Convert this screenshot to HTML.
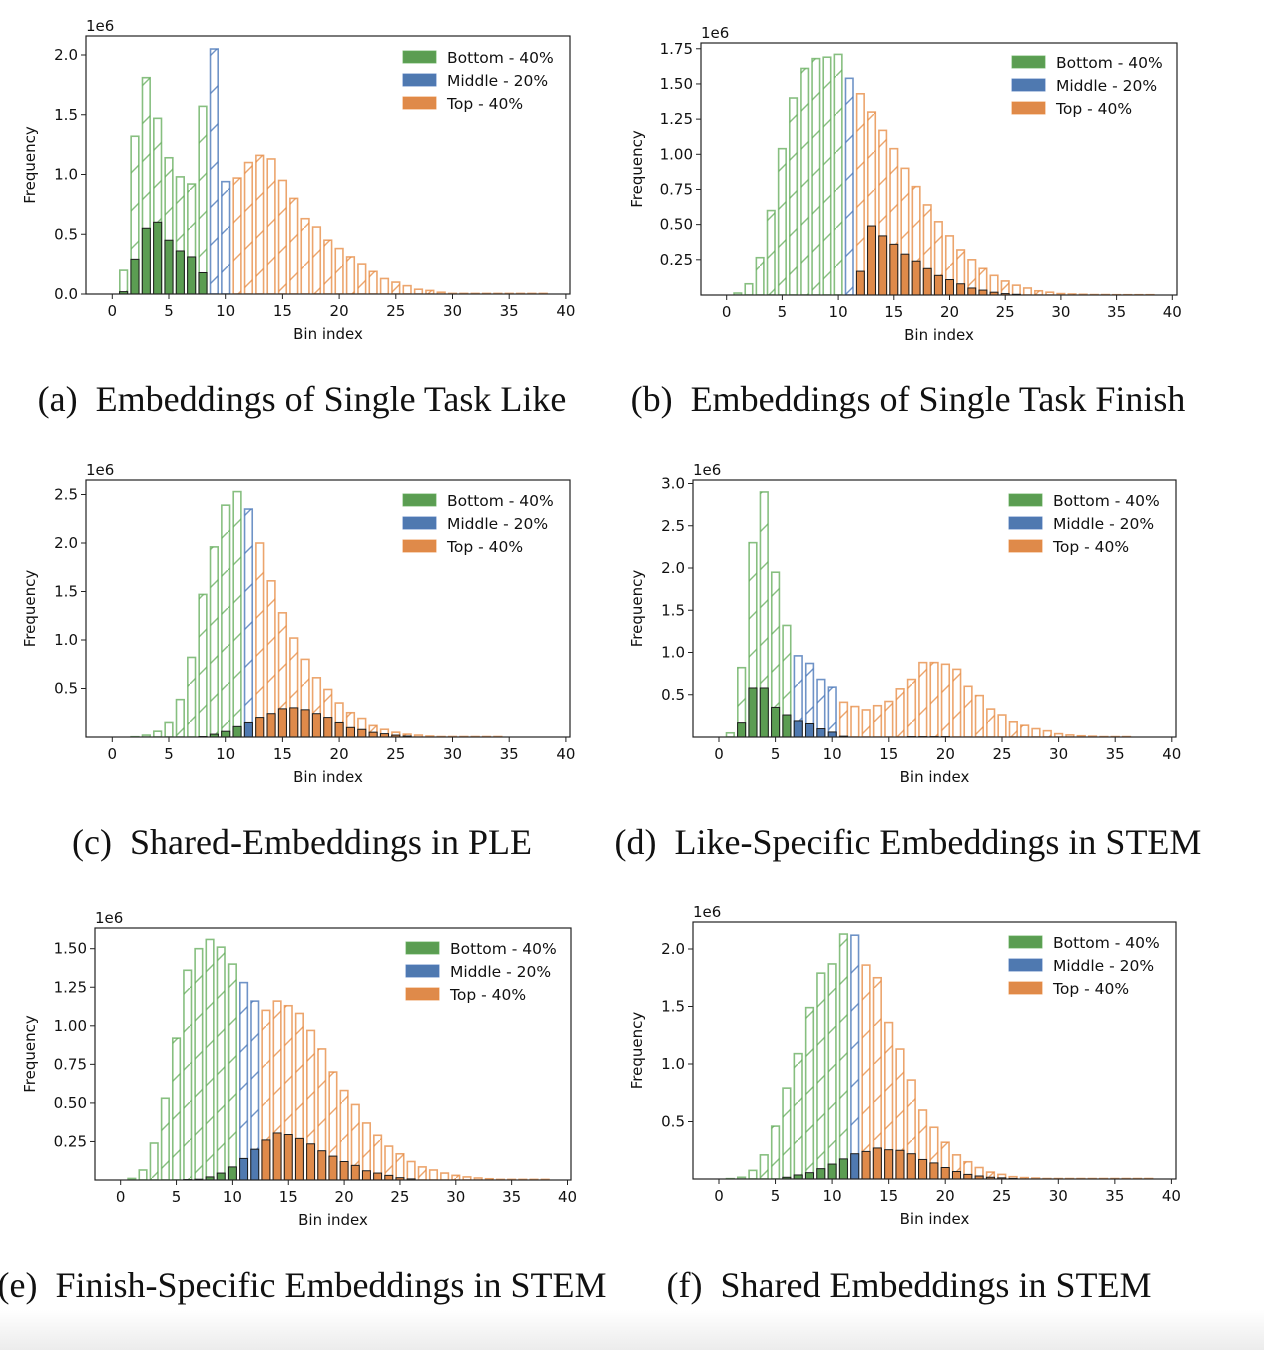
<!DOCTYPE html>
<html><head><meta charset="utf-8"><style>
html,body{margin:0;padding:0;background:#fff;}
svg{display:block;}
</style></head><body>
<svg id="fig" width="1264" height="1350" viewBox="0 0 1264 1350" xmlns="http://www.w3.org/2000/svg">
<defs>
<linearGradient id="bottomFade" x1="0" y1="0" x2="0" y2="1"><stop offset="0" stop-color="#fff"/><stop offset="1" stop-color="#ececec"/></linearGradient>
</defs>
<rect x="0" y="0" width="1264" height="1350" fill="#fff"/>
<rect x="0" y="1310" width="1264" height="40" fill="url(#bottomFade)"/>
<g id="panels"></g>
<g font-family="Liberation Serif, serif" font-size="36" fill="#111" text-anchor="middle">
<text x="302" y="411" xml:space="preserve">(a)  Embeddings of Single Task Like</text>
<text x="908" y="411" xml:space="preserve">(b)  Embeddings of Single Task Finish</text>
<text x="302" y="854" xml:space="preserve">(c)  Shared-Embeddings in PLE</text>
<text x="908" y="854" xml:space="preserve">(d)  Like-Specific Embeddings in STEM</text>
<text x="302" y="1297" xml:space="preserve">(e)  Finish-Specific Embeddings in STEM</text>
<text x="909" y="1297" xml:space="preserve">(f)  Shared Embeddings in STEM</text>
</g>
</svg>
<script>
// ---- data (values in 1e6, indexed by bin 0..39) ----
const legendLabels = ["Bottom - 40%", "Middle - 20%", "Top - 40%"];
const xTickLabels = [0,5,10,15,20,25,30,35,40];

const hatchA = [0,0.2,1.32,1.81,1.47,1.14,0.98,0.92,1.57,2.05,0.94,0.97,1.1,1.16,1.13,0.95,0.8,0.63,0.56,0.45,0.38,0.31,0.25,0.19,0.13,0.1,0.07,0.04,0.03,0.015,0.005,0.005,0.005,0.005,0.005,0.005,0.005,0.005,0.005,0];
const fillA  = [0,0.02,0.29,0.55,0.6,0.45,0.36,0.31,0.18];
const splitA = [8,10]; // last green bin, last blue bin
const yTicksA = [0,0.5,1.0,1.5,2.0];

const hatchB = [0,0.014,0.08,0.265,0.6,1.04,1.4,1.61,1.68,1.69,1.71,1.54,1.43,1.3,1.17,1.04,0.9,0.77,0.64,0.52,0.42,0.32,0.25,0.19,0.14,0.1,0.07,0.05,0.03,0.02,0.01,0.007,0.005,0.003,0.003,0.002,0.002,0.002,0.002,0];
const fillB  = [0,0,0,0,0,0,0,0,0,0,0,0,0.17,0.49,0.42,0.36,0.29,0.24,0.19,0.14,0.11,0.08,0.05,0.035,0.02,0.01,0.005];
const splitB = [10,11];
const yTicksB = [0.25,0.5,0.75,1.0,1.25,1.5,1.75];

const hatchC = [0,0,0.003,0.02,0.06,0.15,0.385,0.82,1.47,1.96,2.39,2.53,2.35,2.0,1.61,1.28,1.02,0.8,0.61,0.49,0.35,0.25,0.19,0.12,0.08,0.05,0.03,0.02,0.01,0.005,0.005,0.005,0.005,0.005,0.005,0,0,0,0,0];
const fillC  = [0,0,0,0,0,0,0,0,0.005,0.03,0.06,0.11,0.15,0.2,0.24,0.29,0.3,0.28,0.24,0.2,0.15,0.1,0.08,0.05,0.035,0.02,0.01];
const splitC = [11,12];
const yTicksC = [0.5,1.0,1.5,2.0,2.5];

const hatchD = [0,0.05,0.82,2.3,2.9,1.95,1.32,0.96,0.87,0.68,0.59,0.41,0.36,0.32,0.37,0.42,0.57,0.68,0.88,0.88,0.86,0.8,0.6,0.49,0.33,0.26,0.18,0.14,0.1,0.075,0.04,0.025,0.015,0.01,0.005,0.005,0.005,0,0,0];
const fillD  = [0,0,0.17,0.58,0.58,0.35,0.26,0.19,0.16,0.1,0.06,0.01,0,0,0,0,0,0.005,0.005,0.005,0.005];
const splitD = [6,10];
const yTicksD = [0.5,1.0,1.5,2.0,2.5,3.0];

const hatchE = [0,0.01,0.065,0.24,0.53,0.92,1.36,1.5,1.56,1.51,1.4,1.28,1.16,1.1,1.16,1.13,1.08,0.97,0.85,0.7,0.58,0.49,0.37,0.29,0.22,0.17,0.12,0.085,0.065,0.045,0.03,0.02,0.013,0.008,0.004,0.004,0.004,0.004,0.004,0];
const fillE  = [0,0,0,0,0,0,0.003,0.005,0.02,0.045,0.085,0.14,0.2,0.26,0.305,0.295,0.27,0.235,0.19,0.155,0.12,0.095,0.06,0.045,0.03,0.015,0.007];
const splitE = [10,12];
const yTicksE = [0.25,0.5,0.75,1.0,1.25,1.5];

const hatchF = [0,0.003,0.015,0.075,0.21,0.46,0.79,1.09,1.49,1.79,1.87,2.13,2.12,1.86,1.75,1.36,1.13,0.86,0.6,0.45,0.32,0.21,0.15,0.1,0.06,0.04,0.02,0.012,0.008,0.004,0.004,0.004,0.004,0.004,0.004,0.004,0.004,0.004,0.004,0];
const fillF  = [0,0,0,0,0,0,0.015,0.035,0.055,0.09,0.13,0.175,0.22,0.24,0.27,0.255,0.25,0.22,0.17,0.14,0.1,0.065,0.04,0.026,0.015,0.01,0.005];
const splitF = [11,12];
const yTicksF = [0.5,1.0,1.5,2.0];

// ---- layout ----
const NS = "http://www.w3.org/2000/svg";
const EDGE_A = ["rgba(95,170,85,0.75)", "rgba(75,120,185,0.8)", "rgba(230,135,60,0.75)"];
const FILLC = ["#5b9d52", "#4f79b0", "#df8a4a"];

const panels = [
  {id:"a", hatch:hatchA, fill:fillA, split:splitA, yt:yTicksA, dec:1, left:86, right:570, top:36, y0:294, x0:112.3, xs:11.34, ys:119.5, lx:403, ly:51, fx:35},
  {id:"b", hatch:hatchB, fill:fillB, split:splitB, yt:yTicksB, dec:2, left:701, right:1177, top:43, y0:295, x0:726.7, xs:11.14, ys:140.7, lx:1012, ly:56, fx:642},
  {id:"c", hatch:hatchC, fill:fillC, split:splitC, yt:yTicksC, dec:1, left:86, right:570, top:480, y0:737, x0:112.3, xs:11.34, ys:97, lx:403, ly:494, fx:35},
  {id:"d", hatch:hatchD, fill:fillD, split:splitD, yt:yTicksD, dec:1, left:693, right:1176, top:480, y0:737, x0:719, xs:11.32, ys:84.5, lx:1009, ly:494, fx:642},
  {id:"e", hatch:hatchE, fill:fillE, split:splitE, yt:yTicksE, dec:2, left:95, right:571, top:928, y0:1180, x0:120.7, xs:11.17, ys:154.2, lx:406, ly:942, fx:35},
  {id:"f", hatch:hatchF, fill:fillF, split:splitF, yt:yTicksF, dec:1, left:693, right:1176, top:922, y0:1179, x0:719, xs:11.31, ys:115, lx:1009, ly:936, fx:642}
];

function mk(tag, attrs, parent){ const e=document.createElementNS(NS,tag); for(const k in attrs) e.setAttribute(k,attrs[k]); if(parent) parent.appendChild(e); return e; }
function txt(parent, x, y, s, attrs){ const t=mk("text", Object.assign({x:x,y:y}, attrs||{}), parent); t.textContent=s; return t; }
function group(bin, split){ return bin<=split[0]?0:(bin<=split[1]?1:2); }

const root = document.getElementById("panels");
const defs = document.querySelector("defs");
[0,1,2].forEach(function(c){
  const p = mk("pattern",{id:"hatch"+c, patternUnits:"userSpaceOnUse", width:38, height:38}, defs);
  mk("line",{x1:-2,y1:40,x2:40,y2:-2,stroke:EDGE_A[c],"stroke-width":1.4}, p);
});

panels.forEach(function(P){
  const g = mk("g",{}, root);
  
  
  const X = function(v){ return P.x0 + v*P.xs; };
  const Y = function(v){ return P.y0 - v*P.ys; };
  const clipId = "clip"+P.id;
  const cp = mk("clipPath",{id:clipId}, defs);
  mk("rect",{x:P.left,y:P.top,width:P.right-P.left,height:P.y0-P.top}, cp);
  const bars = mk("g",{"clip-path":"url(#"+clipId+")"}, g);
  const bw = 0.8;
  P.hatch.forEach(function(v, i){
    if(v<=0) return;
    const c = group(i, P.split);
    const r = mk("rect",{x:X(i-bw/2)+0.7, y:Y(v), width:bw*P.xs-1.4, height:Math.max(P.y0-Y(v),0.5), fill:"url(#hatch"+c+")", stroke:EDGE_A[c], "stroke-width":1.6}, bars);
    
    
  });
  P.fill.forEach(function(v, i){
    if(v<=0) return;
    const c = group(i, P.split);
    const r = mk("rect",{x:X(i-bw/2)+0.5, y:Y(v), width:bw*P.xs-1, height:Math.max(P.y0-Y(v),0.5), fill:FILLC[c], stroke:"#1a1a1a", "stroke-width":1}, bars);
    
    
  });
  const fr = mk("rect",{x:P.left,y:P.top,width:P.right-P.left,height:P.y0-P.top,fill:"none",stroke:"#222","stroke-width":1.2}, g);
  
  
  xTickLabels.forEach(function(t){
    const x = X(t);
    mk("line",{x1:x,y1:P.y0,x2:x,y2:P.y0+5,stroke:"#222","stroke-width":1}, g);
    const l = txt(g, x, P.y0+22, String(t), {"font-family":"DejaVu Sans, Liberation Sans, sans-serif","font-size":15,"text-anchor":"middle",fill:"#111"});
    
    
  });
  P.yt.forEach(function(t){
    const y = Y(t);
    mk("line",{x1:P.left-5,y1:y,x2:P.left,y2:y,stroke:"#222","stroke-width":1}, g);
    const l = txt(g, P.left-8, y+5, t.toFixed(P.dec), {"font-family":"DejaVu Sans, Liberation Sans, sans-serif","font-size":15,"text-anchor":"end",fill:"#111"});
    
    
  });
  const off = txt(g, P.left, P.top-5, "1e6", {"font-family":"DejaVu Sans, Liberation Sans, sans-serif","font-size":15,fill:"#111"});
  
  
  const xl = txt(g, (P.left+P.right)/2, P.y0+45, "Bin index", {"font-family":"DejaVu Sans, Liberation Sans, sans-serif","font-size":15,"text-anchor":"middle",fill:"#111"});
  
  
  const cy = (P.top+P.y0)/2;
  const yl = txt(g, P.fx, cy, "Frequency", {"font-family":"DejaVu Sans, Liberation Sans, sans-serif","font-size":15,"text-anchor":"middle",fill:"#111",transform:"rotate(-90 "+P.fx+" "+cy+")"});
  
  
  legendLabels.forEach(function(s, k){
    const ey = P.ly + k*23;
    const sw = mk("rect",{x:P.lx,y:ey,width:33,height:12,fill:FILLC[k],stroke:EDGE_A[k],"stroke-width":1}, g);
    
    
    const lt = txt(g, P.lx+44, ey+12, s, {"font-family":"DejaVu Sans, Liberation Sans, sans-serif","font-size":15.5,fill:"#111"});
    
    
  });
});
</script>
</body></html>
